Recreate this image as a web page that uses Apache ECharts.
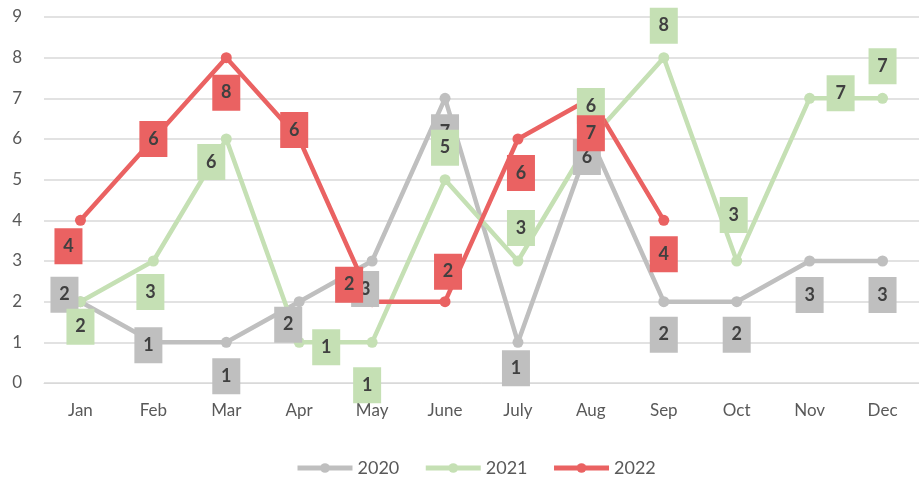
<!DOCTYPE html>
<html>
<head>
<meta charset="utf-8">
<script src="https://cdn.jsdelivr.net/npm/echarts@6/dist/echarts.min.js"></script>
<style>
  html, body { margin: 0; padding: 0; background: #fff; }
  #chart { width: 919px; height: 481px; }
</style>
</head>
<body>
<div id="chart"></div>
<script>
// data
const months = ["Jan", "Feb", "Mar", "Apr", "May", "June", "July", "Aug", "Sep", "Oct", "Nov", "Dec"];
const yearNames = ["2020", "2021", "2022"];
const values2020 = [2, 1, 1, 2, 3, 7, 1, 6, 2, 2, 3, 3];
const values2021 = [2, 3, 6, 1, 1, 5, 3, 6, 8, 3, 7, 7];
const values2022 = [4, 6, 8, 6, 2, 2, 6, 7, 4];

// label placement (px offsets from the point, like in the Excel original)
const offsets2020 = [[-16, -7], [-5, 3], [0, 34], [-11, 23], [-7, 28], [0, 34], [-2, 26], [-4, 18], [0, 33], [0, 33], [0, 34], [0, 34]];
const offsets2021 = [[0, 25], [-3, 31], [-15, 23], [27, 5], [-5, 43], [0, -32], [3, -33], [0, -33], [0, -32], [-3, -46], [31, -5], [0, -32]];
const offsets2022 = [[-12, 26], [0, 0], [0, 35], [-5, -9], [-23, -17], [3, -30], [3, 34], [0, 35], [0, 34]];

const colors = ["#BFBFBF", "#C5E0B4", "#EA6262"];
const fontFamily = "Lato, 'Liberation Sans', sans-serif";

const chart = echarts.init(document.getElementById("chart"));

// 折线
function lineSeries(name, data, color) {
  return {
    name: name,
    type: "line",
    data: data,
    z: 2,
    symbol: "circle",
    symbolSize: 11,
    lineStyle: { color: color, width: 4.5 },
    itemStyle: { color: color },
    emphasis: { disabled: true },
  };
}

// 数据标签 (separate so that all boxes lie above all lines)
function labelSeries(name, data, offsets, color, z) {
  return {
    name: name + "-label",
    type: "scatter",
    z: z,
    symbolSize: 1,
    itemStyle: { color: "rgba(0,0,0,0)", opacity: 1 },
    silent: true,
    data: data.map((v, i) => ({
      value: [i, v],
      label: { offset: offsets[i] },
    })),
    label: {
      show: true,
      position: "inside",
      formatter: (p) => String(p.value[1]),
      backgroundColor: color,
      color: "#404040",
      opacity: 1,
      fontFamily: fontFamily,
      fontWeight: "bold",
      fontSize: 18,
      width: 28,
      height: 36,
      lineHeight: 36,
      align: "center",
      verticalAlign: "middle",
      padding: 0,
    },
  };
}

const option = {
  animation: false,
  backgroundColor: "#ffffff",
  grid: { left: 44, right: -6, top: 17, bottom: 98, containLabel: false },
  legend: {
    data: yearNames,
    bottom: -1,
    left: 290,
    itemWidth: 55,
    itemHeight: 12,
    itemGap: 24,
    lineStyle: { width: 5 },
    textStyle: { color: "#595959", fontSize: 18, fontFamily: fontFamily },
  },
  xAxis: {
    type: "category",
    data: months,
    boundaryGap: true,
    axisLine: { show: true, lineStyle: { color: "#D9D9D9", width: 1 } },
    axisTick: { show: false },
    axisLabel: { color: "#595959", fontSize: 17, fontFamily: fontFamily, margin: 19 },
  },
  yAxis: {
    type: "value",
    min: 0,
    max: 9,
    interval: 1,
    axisLine: { show: false },
    axisTick: { show: false },
    axisLabel: { color: "#595959", fontSize: 17, fontFamily: fontFamily, margin: 22 },
    splitLine: { lineStyle: { color: "#D9D9D9", width: 1.5 } },
  },
  series: [
    lineSeries(yearNames[0], values2020, colors[0]),
    lineSeries(yearNames[1], values2021, colors[1]),
    lineSeries(yearNames[2], values2022, colors[2]),
    labelSeries(yearNames[0], values2020, offsets2020, colors[0], 3),
    labelSeries(yearNames[1], values2021, offsets2021, colors[1], 4),
    labelSeries(yearNames[2], values2022, offsets2022, colors[2], 5),
  ],
};

chart.setOption(option);
</script>
</body>
</html>
